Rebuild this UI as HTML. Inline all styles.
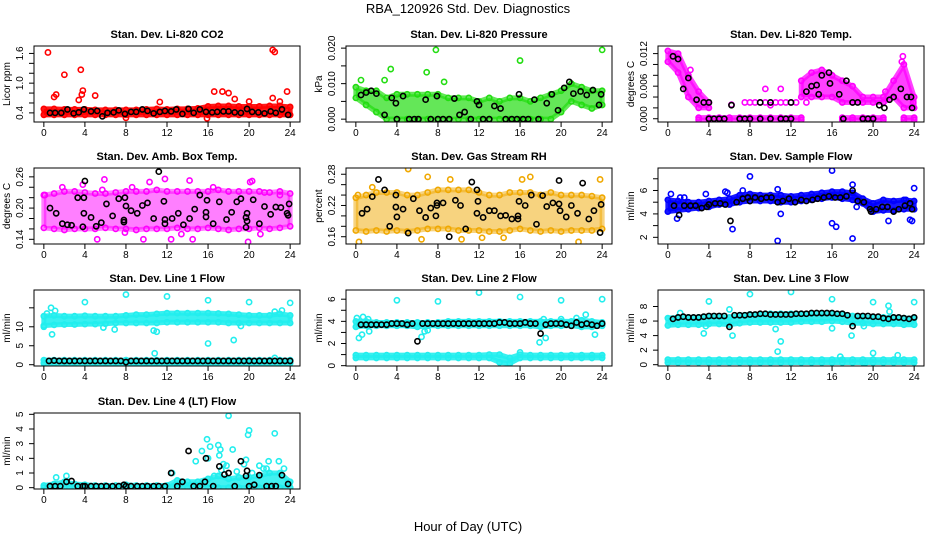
<!DOCTYPE html>
<html><head><meta charset="utf-8"><style>
body{margin:0;background:#fff}
svg text{font-family:"Liberation Sans",sans-serif}
</style></head><body>
<svg id="chart" width="936" height="540" viewBox="0 0 936 540" xmlns="http://www.w3.org/2000/svg">
<rect x="0" y="0" width="936" height="540" fill="#fff"/>
<text x="468" y="13" text-anchor="middle" font-size="13">RBA_120926  Std. Dev. Diagnostics</text>
<text x="468" y="531" text-anchor="middle" font-size="13">Hour of Day (UTC)</text>
<g id="panels"></g>
</svg>
<script>
const hours=[0,1,2,3,4,5,6,7,8,9,10,11,12,13,14,15,16,17,18,19,20,21,22,23,24];
const halfHours=[0.5,1,1.5,2,2.5,3,3.5,4,4.5,5,5.5,6,6.5,7,7.5,8,8.5,9,9.5,10,10.5,11,11.5,12,12.5,13,13.5,14,14.5,15,15.5,16,16.5,17,17.5,18,18.5,19,19.5,20,20.5,21,21.5,22,22.5,23,23.5,24];

// CO2
const co2Lo=[0.36,0.36,0.36,0.36,0.36,0.36,0.36,0.36,0.36,0.36,0.36,0.36,0.36,0.36,0.36,0.36,0.36,0.36,0.36,0.36,0.36,0.36,0.36,0.36,0.36];
const co2Hi=[0.48,0.48,0.47,0.47,0.47,0.46,0.46,0.46,0.46,0.46,0.47,0.48,0.47,0.48,0.48,0.49,0.53,0.54,0.54,0.53,0.53,0.53,0.54,0.54,0.52];
const co2OutX=[0.4,2,3.6,3.8,3.7,1.2,1.0,3.4,5,11.3,16.6,17.4,18,18.6,20,22.3,22.5,22.3,23.7,23,15.9,8];
const co2OutY=[1.62,1.17,1.27,0.85,0.77,0.77,0.72,0.66,0.75,0.62,0.83,0.83,0.80,0.68,0.63,1.67,1.63,0.70,0.83,0.63,0.29,0.30];
const co2BlkX=[0.6,1.1,1.7,2.3,2.9,3.4,3.9,4.6,5.2,5.7,6.2,6.8,7.3,7.9,8.5,9.0,9.6,10.1,10.7,11.3,11.8,12.4,12.9,13.5,14.1,14.6,15.2,15.8,16.4,16.9,17.5,18.0,18.6,19.2,19.8,20.3,20.9,21.5,22.1,22.6,23.2,23.8];
const co2BlkY=[0.40,0.40,0.40,0.47,0.39,0.41,0.47,0.43,0.44,0.33,0.40,0.41,0.45,0.38,0.42,0.42,0.47,0.44,0.39,0.42,0.44,0.43,0.47,0.38,0.48,0.40,0.47,0.42,0.41,0.42,0.43,0.43,0.41,0.40,0.48,0.42,0.41,0.39,0.43,0.40,0.47,0.36];
// Pressure
const prsLo=[0.006,0.004,0.002,0.0,0.0,0.0,0.0,0.0,0.0,0.0,0.0,0.0,0.0,0.0,0.0,0.0,0.0,0.0,0.0,0.0,0.002,0.005,0.004,0.003,0.004];
const prsHi=[0.009,0.008,0.008,0.006,0.007,0.007,0.007,0.007,0.007,0.006,0.006,0.006,0.005,0.006,0.005,0.006,0.006,0.005,0.006,0.007,0.008,0.010,0.009,0.008,0.008];
const prsOutX=[7.8,16,24,3.4,6.9,2.8,8.6,0.5];
const prsOutY=[0.0195,0.0165,0.0195,0.0141,0.0132,0.011,0.0105,0.011];
const prsBlkX=[0.5,1,1.5,2,2.8,3.5,3.9,4,4.6,5.2,5.7,6.1,6.8,7.3,7.9,8,8.5,9.1,9.6,10.1,10.6,11.2,11.8,12,12.4,13,13.5,14.1,14.6,15.2,15.7,15.9,16.3,16.8,17.4,17.8,18.6,19.1,19.7,20.3,20.8,21.2,21.9,22.5,23.1,23.7,23.9];
const prsBlkY=[0.0068,0.0075,0.008,0.0072,0.0012,0.006,0.0045,0.0,0.0065,0.0,0.0,0.0,0.0055,0.0,0.0065,0.0,0.0,0.0,0.0058,0.0012,0.002,0.0,0.005,0.004,0.0,0.0,0.0037,0.003,0.0,0.0,0.0,0.007,0.0,0.0,0.0055,0.0,0.0045,0.007,0.0025,0.0088,0.0105,0.0072,0.0078,0.0068,0.0082,0.004,0.007];
// Temp
const tmpLo=[0.0105,0.0085,0.004,0.002,0.002,null,null,null,null,null,null,null,null,0.004,0.004,0.004,0.004,0.003,0.003,0.003,0.003,0.003,0.004,0.002,0.002];
const tmpHi=[0.0125,0.012,0.008,0.005,0.003,null,null,null,null,null,null,null,null,0.007,0.0085,0.009,0.008,0.007,0.006,0.004,0.004,0.004,0.007,0.010,0.004];
const tmpZeroLo=[null,null,null,-0.0002,-0.0002,-0.0002,-0.0002,-0.0002,-0.0002,-0.0002,-0.0002,-0.0002,-0.0002,-0.0002,null,null,null,-0.0002,-0.0002,-0.0002,-0.0002,-0.0002,null,-0.0002,-0.0002];
const tmpZeroHi=[null,null,null,0.0002,0.0002,0.0002,0.0002,0.0002,0.0002,0.0002,0.0002,0.0002,0.0002,0.0002,null,null,null,0.0002,0.0002,0.0002,0.0002,0.0002,null,0.0002,0.0002];
const tmpOutX=[6.2,7.5,8,8.5,9,9.5,10,10.5,11,11.5,12,12.5,13.5,10,9.5,11,21.2,23.9,22.9,22.8,2.2];
const tmpOutY=[0.0026,0.003,0.003,0.003,0.003,0.003,0.003,0.003,0.003,0.003,0.003,0.003,0.003,0.0025,0.0055,0.0055,0.005,0.003,0.0115,0.0105,0.009];
const tmpBlkX=[0.5,1,1.5,2,2.8,3.5,4,4,4.5,5,5.5,6.2,7,7.5,8,9,9,10,10,11,11.5,12,12,13.5,14,14.5,14.7,15,15.7,15.8,16.7,17.4,17.1,18,18.5,19,19.5,20,20.6,21.1,21.6,22,22.7,23.3,23.7,23.8];
const tmpBlkY=[0.0115,0.011,0.0055,0.0075,0.0035,0.003,0.003,0.0,0.0,0.0,0.0,0.0025,0.0,0.0,0.0,0.0,0.003,0.0,0.003,0.0,0.0,0.0,0.003,0.005,0.006,0.0062,0.0045,0.008,0.0085,0.0065,0.0045,0.007,0.0,0.003,0.003,0.0,0.0,0.0,0.0025,0.002,0.0035,0.004,0.0055,0.004,0.004,0.002];
// Amb box temp
const ambLo=[0.162,0.16,0.158,0.16,0.16,0.16,0.162,0.16,0.16,0.158,0.16,0.16,0.16,0.162,0.16,0.16,0.162,0.16,0.158,0.16,0.16,0.162,0.16,0.162,0.165];
const ambHi=[0.225,0.228,0.232,0.232,0.23,0.228,0.228,0.23,0.232,0.232,0.232,0.235,0.232,0.232,0.232,0.232,0.232,0.235,0.232,0.232,0.232,0.232,0.23,0.232,0.228];
const ambOutX=[0.1,3.8,5.9,5.7,7.9,5.2,9.7,10.3,11.8,12.4,13.4,14.2,14.5,19.9,20.1,20.3,21.1,21.5,23,1.8,8.6,16.5];
const ambOutY=[0.225,0.245,0.255,0.235,0.153,0.14,0.14,0.25,0.256,0.14,0.15,0.253,0.14,0.135,0.25,0.252,0.15,0.23,0.225,0.24,0.24,0.24];
const ambBlkX=[0.6,1.2,1.8,2.3,2.7,3.3,3.8,3.9,4,3.9,4.6,5.1,5.6,6.1,6.7,7.3,7.8,7.8,7.9,8,8.5,9.1,9.6,10.1,10.7,11.2,11.7,11.8,11.8,12.5,13.1,13.6,14.2,14.7,15.2,15.8,15.8,15.9,16.5,17.1,17.8,18.3,18.8,19.2,19.7,19.8,19.8,19.7,20.4,21.0,21.5,22.1,22.6,23.1,23.7,23.8,23.9];
const ambBlkY=[0.20,0.19,0.17,0.168,0.167,0.22,0.164,0.19,0.252,0.22,0.182,0.165,0.172,0.208,0.185,0.218,0.177,0.173,0.22,0.204,0.195,0.19,0.205,0.21,0.18,0.27,0.213,0.17,0.178,0.18,0.19,0.168,0.18,0.198,0.225,0.192,0.183,0.215,0.17,0.212,0.178,0.192,0.212,0.218,0.182,0.175,0.19,0.163,0.216,0.17,0.203,0.188,0.202,0.201,0.19,0.186,0.208];
// Gas stream RH
const rhLo=[0.172,0.17,0.172,0.17,0.172,0.17,0.172,0.175,0.175,0.175,0.172,0.172,0.172,0.17,0.17,0.172,0.175,0.172,0.17,0.172,0.17,0.172,0.172,0.172,0.175];
const rhHi=[0.235,0.24,0.245,0.245,0.245,0.24,0.24,0.245,0.25,0.25,0.25,0.25,0.245,0.24,0.24,0.245,0.245,0.245,0.24,0.245,0.24,0.24,0.24,0.238,0.235];
const rhOutX=[0.3,5.1,6.4,7.0,9.2,10.3,12.3,17,21.7,16.2,23.8,0.2,1.6,14.4];
const rhOutY=[0.15,0.29,0.155,0.275,0.27,0.155,0.158,0.275,0.15,0.27,0.27,0.24,0.255,0.158];
const rhBlkX=[0.6,1.1,1.6,2.2,2.8,3.3,3.9,3.9,4,4.6,5.1,5.6,6.2,6.8,7.3,7.8,7.9,7.9,8.5,9.1,9.7,10.2,10.7,11.3,11.8,11.8,11.9,12.4,13,13.5,14.1,14.6,15.2,15.8,15.8,15.9,16.5,17.1,17.6,18.2,18.6,19.2,19.8,19.8,19.9,20.5,21.0,21.6,22.1,22.7,23.2,23.8,23.9];
const rhBlkY=[0.205,0.213,0.237,0.27,0.25,0.18,0.24,0.217,0.198,0.213,0.167,0.233,0.21,0.197,0.215,0.2,0.22,0.225,0.225,0.16,0.23,0.22,0.175,0.265,0.25,0.205,0.228,0.197,0.21,0.21,0.20,0.201,0.194,0.2,0.194,0.228,0.22,0.24,0.184,0.239,0.218,0.225,0.268,0.223,0.21,0.198,0.22,0.205,0.263,0.194,0.21,0.168,0.222];
// Sample flow
const smpLo=[4.2,4.3,4.4,4.5,4.6,4.8,4.8,5.0,5.1,5.1,5.1,5.0,5.0,5.1,5.2,5.3,5.4,5.3,5.2,4.9,4.2,4.3,4.3,4.4,4.4];
const smpHi=[5.2,5.1,5.0,5.0,5.1,5.2,5.3,5.6,5.7,5.6,5.6,5.6,5.5,5.6,5.7,5.8,5.9,5.9,5.8,5.3,4.9,5.2,5.1,5.2,5.1];
const smpOutX=[0.3,0.9,1.2,1.6,3.7,5.6,5.8,6.3,7.3,8,10.7,11,10.7,16,16,16.4,18,18,18.4,21.5,23.6,23.8,24,23.2];
const smpOutY=[5.7,3.6,5.4,5.4,5.7,5.9,5.8,2.7,6.0,7.2,6.1,4.0,1.7,7.7,3.2,2.9,1.9,6.5,4.6,3.4,3.5,3.4,6.2,5.2];
const smpBlkX=[0.6,1.1,1.6,2.2,2.7,3.3,3.8,4,4.6,5.1,5.6,6.1,6.7,7.3,7.8,8,8.5,9.1,9.6,10.1,10.7,11.2,11.8,12.4,13,13.5,14.1,14.6,15.2,15.7,16.3,16.8,17.4,18,18.5,19.1,19.7,19.8,20.3,20.9,21.4,22,22.5,23.1,23.6,23.8];
const smpBlkY=[4.7,3.9,4.7,4.7,4.7,4.5,4.6,4.8,4.9,4.9,4.8,3.4,5.0,5.3,5.4,5.1,5.4,5.3,5.4,5.4,5.0,5.1,5.3,5.0,5.2,5.1,5.2,5.3,5.4,5.5,5.4,5.4,5.5,6.0,5.1,5.0,4.4,4.2,4.4,4.6,4.6,4.2,4.4,4.7,4.9,4.4];
// Line 1 flow
const l1Lo=[10.3,10.5,10.6,10.6,10.7,10.7,10.8,11.0,11.0,11.0,11.0,11.0,11.2,11.2,11.2,11.2,11.2,11.2,11.0,11.0,11.0,11.0,11.0,11.0,11.0];
const l1Hi=[12.8,13.0,12.8,12.8,12.9,12.8,12.8,12.8,13.0,13.2,13.2,13.4,13.6,13.6,13.6,13.6,13.6,13.5,13.4,13.2,13.0,13.0,13.0,13.4,13.0];
const l1LowLo=[0.4,0.4,0.4,0.4,0.4,0.4,0.4,0.4,0.4,0.4,0.4,0.4,0.4,0.4,0.4,0.4,0.4,0.4,0.4,0.4,0.4,0.4,0.4,0.4,0.4];
const l1LowHi=[1.2,1.2,1.2,1.2,1.2,1.2,1.2,1.2,1.2,1.2,1.2,1.2,1.2,1.2,1.2,1.2,1.2,1.2,1.2,1.2,1.2,1.2,1.2,1.2,1.2];
const l1OutX=[0,0.3,0.8,0.7,4,5.8,6.9,8,10.7,11,10.8,12,16,16,18.5,20,19.2,22.5,22.5,24,23.2,1.1];
const l1OutY=[10,13.5,8,15,16.5,9.8,9.3,18.5,9,8.7,3,18,17,5.6,6.5,16.5,10.2,1.8,14,16.3,14.3,14.2];
const l1BlkY=[1,1.1,1,1,1,1,1,1,1,1,1,1,1,1,1,0.7,1,1,1,1,1,1,1,1,1,1,1,1,1,1,1,1,1,1,1,1,1,1,1,1,1,1,1,1,1,1,1,1];
// Line 2 flow
const l2Lo=[3.5,3.6,3.6,3.6,3.6,3.6,3.5,3.6,3.6,3.6,3.6,3.6,3.6,3.6,3.6,3.6,3.6,3.6,3.5,3.6,3.6,3.6,3.5,3.5,3.6];
const l2Hi=[4.0,4.0,3.9,3.9,3.9,3.9,3.9,3.9,3.9,4.0,4.0,4.0,4.0,4.0,4.0,4.0,4.0,4.0,4.0,4.0,4.0,4.0,4.1,4.0,3.9];
const l2LowLo=[0.7,0.7,0.7,0.7,0.7,0.7,0.7,0.7,0.7,0.7,0.7,0.7,0.7,0.7,0.3,0.2,0.7,0.7,0.7,0.7,0.7,0.7,0.7,0.7,0.7];
const l2LowHi=[0.95,0.95,0.95,0.95,0.95,0.95,0.95,0.95,0.95,0.95,0.95,0.95,0.95,1.0,1.0,0.7,1.0,0.95,0.95,0.95,0.95,0.95,0.95,0.95,0.95];
const l2OutX=[0.1,0.3,0.6,0.7,1.3,1.2,4,6.4,6.7,7,8,12,16,16,17.9,18.5,20,20,21.5,22.4,23.3,24,18.3];
const l2OutY=[4.3,2.5,2.8,4.4,3.1,4.2,5.9,2.6,3.1,3.2,5.8,6.6,6.2,1.2,2.1,2.5,5.9,4.2,4.3,4.6,2.8,6.0,4.2];
const l2BlkY=[3.7,3.7,3.7,3.7,3.7,3.7,3.8,3.8,3.8,3.7,3.8,2.2,3.8,3.8,3.8,3.8,3.8,3.8,3.8,3.8,3.8,3.8,3.8,3.8,3.8,3.8,3.8,3.9,3.9,3.8,3.8,3.8,3.9,3.8,3.8,2.9,3.7,3.8,3.8,3.8,3.7,3.6,3.9,3.7,3.8,3.7,3.6,3.8];
// Line 3 flow
const l3Lo=[5.4,5.5,5.5,5.5,5.6,5.6,5.5,5.7,5.8,5.8,5.8,5.8,5.8,5.9,5.9,5.9,6.0,5.9,5.7,5.7,5.6,5.6,5.6,5.5,5.5];
const l3Hi=[6.4,6.5,6.5,6.5,6.6,6.6,6.5,6.8,6.9,6.9,7.0,7.0,7.0,7.0,7.0,7.0,7.0,7.0,6.7,6.6,6.5,6.5,6.5,6.4,6.4];
const l3LowLo=[0.3,0.3,0.3,0.3,0.3,0.3,0.3,0.3,0.3,0.3,0.3,0.3,0.3,0.3,0.3,0.3,0.3,0.3,0.3,0.3,0.3,0.3,0.3,0.3,0.3];
const l3LowHi=[0.7,0.7,0.7,0.7,0.7,0.7,0.7,0.7,0.7,0.7,0.7,0.7,0.7,0.7,0.7,0.7,0.7,0.7,0.7,0.7,0.7,0.7,0.7,0.7,0.7];
const l3OutX=[1.2,3.5,3.7,4,6,6.3,8,10.5,10.7,11,12,16,16,16.8,17.9,19.1,19.2,20,20,21.5,21.6,22.4,24];
const l3OutY=[7.1,4.3,5.3,8.7,7.6,4.0,9.7,4.9,1.8,3.2,10,9,5,1.1,4.0,5.3,0.2,8.6,1.6,8.1,7.3,1.3,8.6];
const l3BlkY=[6.3,6.5,6.6,6.5,6.5,6.5,6.6,6.7,6.7,6.7,6.7,5.2,6.8,6.8,6.8,6.9,6.9,7.0,7.0,6.9,6.9,6.9,6.9,6.9,7.0,7.0,7.0,7.1,7.1,7.1,7.1,7.1,7.0,7.0,6.8,5.3,6.7,6.7,6.7,6.6,6.6,6.4,6.3,6.5,6.5,6.4,6.3,6.5];
// Line 4 flow
const l4Lo=[0,0,0,0,0,0,0,0,0,0,0,0,0,0,0,0,0,0,0,0,0,0,0,0,0];
const l4Hi=[0.15,0.25,0.4,0.25,0.2,0.15,0.15,0.15,0.2,0.15,0.15,0.15,0.15,0.5,0.4,0.4,0.6,0.8,0.6,0.7,0.7,0.8,1.0,1.0,0.4];
const l4OutX=[1.2,2.2,12.5,14.8,15.4,15.9,16,16.2,16.6,17,17.1,17.2,17.5,17.8,18,18.4,18.8,19.7,19.9,20,20.3,21,21.4,21.9,22.5,22.9,23.4,17.3,19.5,21.7];
const l4OutY=[0.7,0.8,1.0,1.8,2.5,3.3,2.0,2.8,0.8,2.9,2.2,2.6,1.6,1.5,4.9,2.6,1.1,1.9,3.6,3.9,1.0,1.5,1.3,1.8,3.7,1.8,1.3,1.2,1.6,1.3];
const l4BlkX=[0.6,1.1,1.6,2.2,2.7,3.3,3.8,4,4.6,5.1,5.6,6.1,6.7,7.3,7.8,8,8.5,9.1,9.6,10.1,10.7,11.2,11.8,12.4,13,13.5,14.1,14.6,15.2,15.7,15.8,16.5,17.1,17.6,18,18.6,19.2,19.7,19.8,20,20.5,21,21.7,22.2,22.6,23.2,23.8];
const l4BlkY=[0.1,0.1,0.1,0.4,0.45,0.1,0.1,0.1,0.1,0.1,0.1,0.1,0.1,0.1,0.2,0.1,0.1,0.1,0.1,0.1,0.1,0.1,0.1,1.0,0.1,0.4,2.5,0.1,0.1,0.4,2.0,0.1,1.45,0.9,1.0,0.1,1.8,0.8,1.15,0.1,0.2,0.85,0.1,0.1,0.1,0.85,0.25];

const panels=[
 {name:'co2',title:'Stan. Dev. Li-820 CO2',ylab:'Licor ppm',col:0,row:0,y0:0.216,y1:1.75,color:'#ff0000',op:0.9,
  ticks:[0.4,0.6,0.8,1.0,1.2,1.4,1.6],labels:['0.4','','','1.0','','','1.6'],
  bands:[[co2Lo,co2Hi]],outX:co2OutX,outY:co2OutY,bx:co2BlkX,by:co2BlkY},
 {name:'pressure',title:'Stan. Dev. Li-820 Pressure',ylab:'kPa',col:1,row:0,y0:-0.0008,y1:0.0206,color:'#22dd11',op:0.7,
  ticks:[0,0.005,0.01,0.015,0.02],labels:['0.000','','0.010','','0.020'],
  bands:[[prsLo,prsHi]],outX:prsOutX,outY:prsOutY,bx:prsBlkX,by:prsBlkY},
 {name:'li820-temp',title:'Stan. Dev. Li-820 Temp.',ylab:'degrees C',col:2,row:0,y0:-0.0006,y1:0.0134,color:'#ff00ff',op:0.75,
  ticks:[0,0.002,0.004,0.006,0.008,0.01,0.012],labels:['0.000','','','0.006','','','0.012'],
  bands:[[tmpLo,tmpHi],[tmpZeroLo,tmpZeroHi]],outX:tmpOutX,outY:tmpOutY,bx:tmpBlkX,by:tmpBlkY},
 {name:'amb-box-temp',title:'Stan. Dev. Amb. Box Temp.',ylab:'degrees C',col:0,row:1,y0:0.131,y1:0.277,color:'#ff00ff',op:0.5,
  ticks:[0.14,0.16,0.18,0.2,0.22,0.24,0.26],labels:['0.14','','','0.20','','','0.26'],
  bands:[[ambLo,ambHi]],outX:ambOutX,outY:ambOutY,bx:ambBlkX,by:ambBlkY},
 {name:'gas-stream-rh',title:'Stan. Dev. Gas Stream RH',ylab:'percent',col:1,row:1,y0:0.146,y1:0.292,color:'#f0a800',op:0.5,
  ticks:[0.16,0.18,0.2,0.22,0.24,0.26,0.28],labels:['0.16','','','0.22','','','0.28'],
  bands:[[rhLo,rhHi]],outX:rhOutX,outY:rhOutY,bx:rhBlkX,by:rhBlkY},
 {name:'sample-flow',title:'Stan. Dev. Sample Flow',ylab:'ml/min',col:2,row:1,y0:1.43,y1:7.92,color:'#0000ff',op:0.9,
  ticks:[2,3,4,5,6,7],labels:['2','','4','','6',''],
  bands:[[smpLo,smpHi]],outX:smpOutX,outY:smpOutY,bx:smpBlkX,by:smpBlkY},
 {name:'line1-flow',title:'Stan. Dev. Line 1 Flow',ylab:'ml/min',col:0,row:2,y0:-0.34,y1:19.7,color:'#22eeee',op:0.9,
  ticks:[0,5,10,15],labels:['0','5','10',''],
  bands:[[l1Lo,l1Hi],[l1LowLo,l1LowHi]],outX:l1OutX,outY:l1OutY,bx:halfHours,by:l1BlkY},
 {name:'line2-flow',title:'Stan. Dev. Line 2 Flow',ylab:'ml/min',col:1,row:2,y0:-0.03,y1:6.83,color:'#22eeee',op:0.9,
  ticks:[0,1,2,3,4,5,6],labels:['0','','2','','4','','6'],
  bands:[[l2Lo,l2Hi],[l2LowLo,l2LowHi]],outX:l2OutX,outY:l2OutY,bx:halfHours,by:l2BlkY},
 {name:'line3-flow',title:'Stan. Dev. Line 3 Flow',ylab:'ml/min',col:2,row:2,y0:-0.18,y1:10.27,color:'#22eeee',op:0.9,
  ticks:[0,2,4,6,8],labels:['0','2','4','6','8'],
  bands:[[l3Lo,l3Hi],[l3LowLo,l3LowHi]],outX:l3OutX,outY:l3OutY,bx:halfHours,by:l3BlkY},
 {name:'line4-flow',title:'Stan. Dev. Line 4 (LT) Flow',ylab:'ml/min',col:0,row:3,y0:-0.09,y1:5.09,color:'#22eeee',op:0.85,
  ticks:[0,1,2,3,4,5],labels:['0','1','2','3','4','5'],
  bands:[[l4Lo,l4Hi]],outX:l4OutX,outY:l4OutY,bx:l4BlkX,by:l4BlkY}
];
const xTicks=[0,4,8,12,16,20,24];
const NS='http://www.w3.org/2000/svg';
const root=document.getElementById('panels');
function mk(tag,attrs,parent){const e=document.createElementNS(NS,tag);for(const k in attrs)e.setAttribute(k,attrs[k]);parent.appendChild(e);return e;}
const colL=[34,346,658],rowT=[46,168,290,413],W=266,H=76,X0=-0.96,X1=24.96;
panels.forEach(p=>{
 const L=colL[p.col],T=rowT[p.row];
 const sx=v=>L+(v-X0)/(X1-X0)*W;
 const sy=v=>T+H-(v-p.y0)/(p.y1-p.y0)*H;
 const g=mk('g',{},root);
 
 
 const cp=mk('clipPath',{id:'cp-'+p.name},g);
 mk('rect',{x:L,y:T,width:W,height:H},cp);
 const t=mk('text',{x:L+W/2,y:T-8,'text-anchor':'middle','font-size':'11','font-weight':'bold'},g);
 t.textContent=p.title;
 
 
 const marks=mk('g',{'clip-path':'url(#cp-'+p.name+')'},g);
 
 
 p.bands.forEach(([lo,hi],bi)=>{
  let seg=[];
  const flush=()=>{if(seg.length>1){const top=seg.map(i=>sx(hours[i])+','+sy(hi[i]));const bot=seg.slice().reverse().map(i=>sx(hours[i])+','+sy(lo[i]));
    const poly=mk('polygon',{points:top.concat(bot).join(' '),fill:p.color,stroke:p.color,'stroke-width':5,'stroke-linejoin':'round','fill-opacity':p.op,'stroke-opacity':p.op},marks);
    
    }seg=[];};
  hours.forEach((h,i)=>{if(lo[i]===null||hi[i]===null)flush();else seg.push(i);});flush();
  hours.forEach((h,i)=>{if(lo[i]===null)return;[lo[i],hi[i]].forEach(v=>{
    const c=mk('circle',{cx:sx(h),cy:sy(v),r:2.6,fill:'none',stroke:p.color,'stroke-width':1.6},marks);
    
    });});
 });
 p.outX.forEach((x,i)=>{
  const c=mk('circle',{cx:sx(x),cy:sy(p.outY[i]),r:2.6,fill:'none',stroke:p.color,'stroke-width':1.6},marks);
  
  
 });
 p.bx.forEach((x,i)=>{
  const c=mk('circle',{cx:sx(x),cy:sy(p.by[i]),r:2.6,fill:'none',stroke:'#000','stroke-width':1.6},marks);
  
  
 });
 const box=mk('rect',{x:L,y:T,width:W,height:H,fill:'none',stroke:'#000','stroke-width':1},g);
 
 
 const xa=mk('g',{},g);
 
 
 xTicks.forEach(v=>{mk('line',{x1:sx(v),x2:sx(v),y1:T+H,y2:T+H+5,stroke:'#000'},xa);
  const tl=mk('text',{x:sx(v),y:T+H+14,'text-anchor':'middle','font-size':'10'},xa);tl.textContent=v;});
 const ya=mk('g',{},g);
 
 
 mk('line',{x1:L,x2:L,y1:sy(p.ticks[0]),y2:sy(p.ticks[p.ticks.length-1]),stroke:'#000'},ya);
 p.ticks.forEach((v,i)=>{mk('line',{x1:L-5,x2:L,y1:sy(v),y2:sy(v),stroke:'#000'},ya);
  if(p.labels[i]){const tl=mk('text',{x:L-11,y:sy(v),'text-anchor':'middle','font-size':'10',transform:'rotate(-90 '+(L-11)+' '+sy(v)+')'},ya);tl.textContent=p.labels[i];}});
 const yt=mk('text',{x:L-24,y:T+H/2,'text-anchor':'middle','font-size':'10',transform:'rotate(-90 '+(L-24)+' '+(T+H/2)+')'},g);
 yt.textContent=p.ylab;
 
 
});
</script>
</body></html>
